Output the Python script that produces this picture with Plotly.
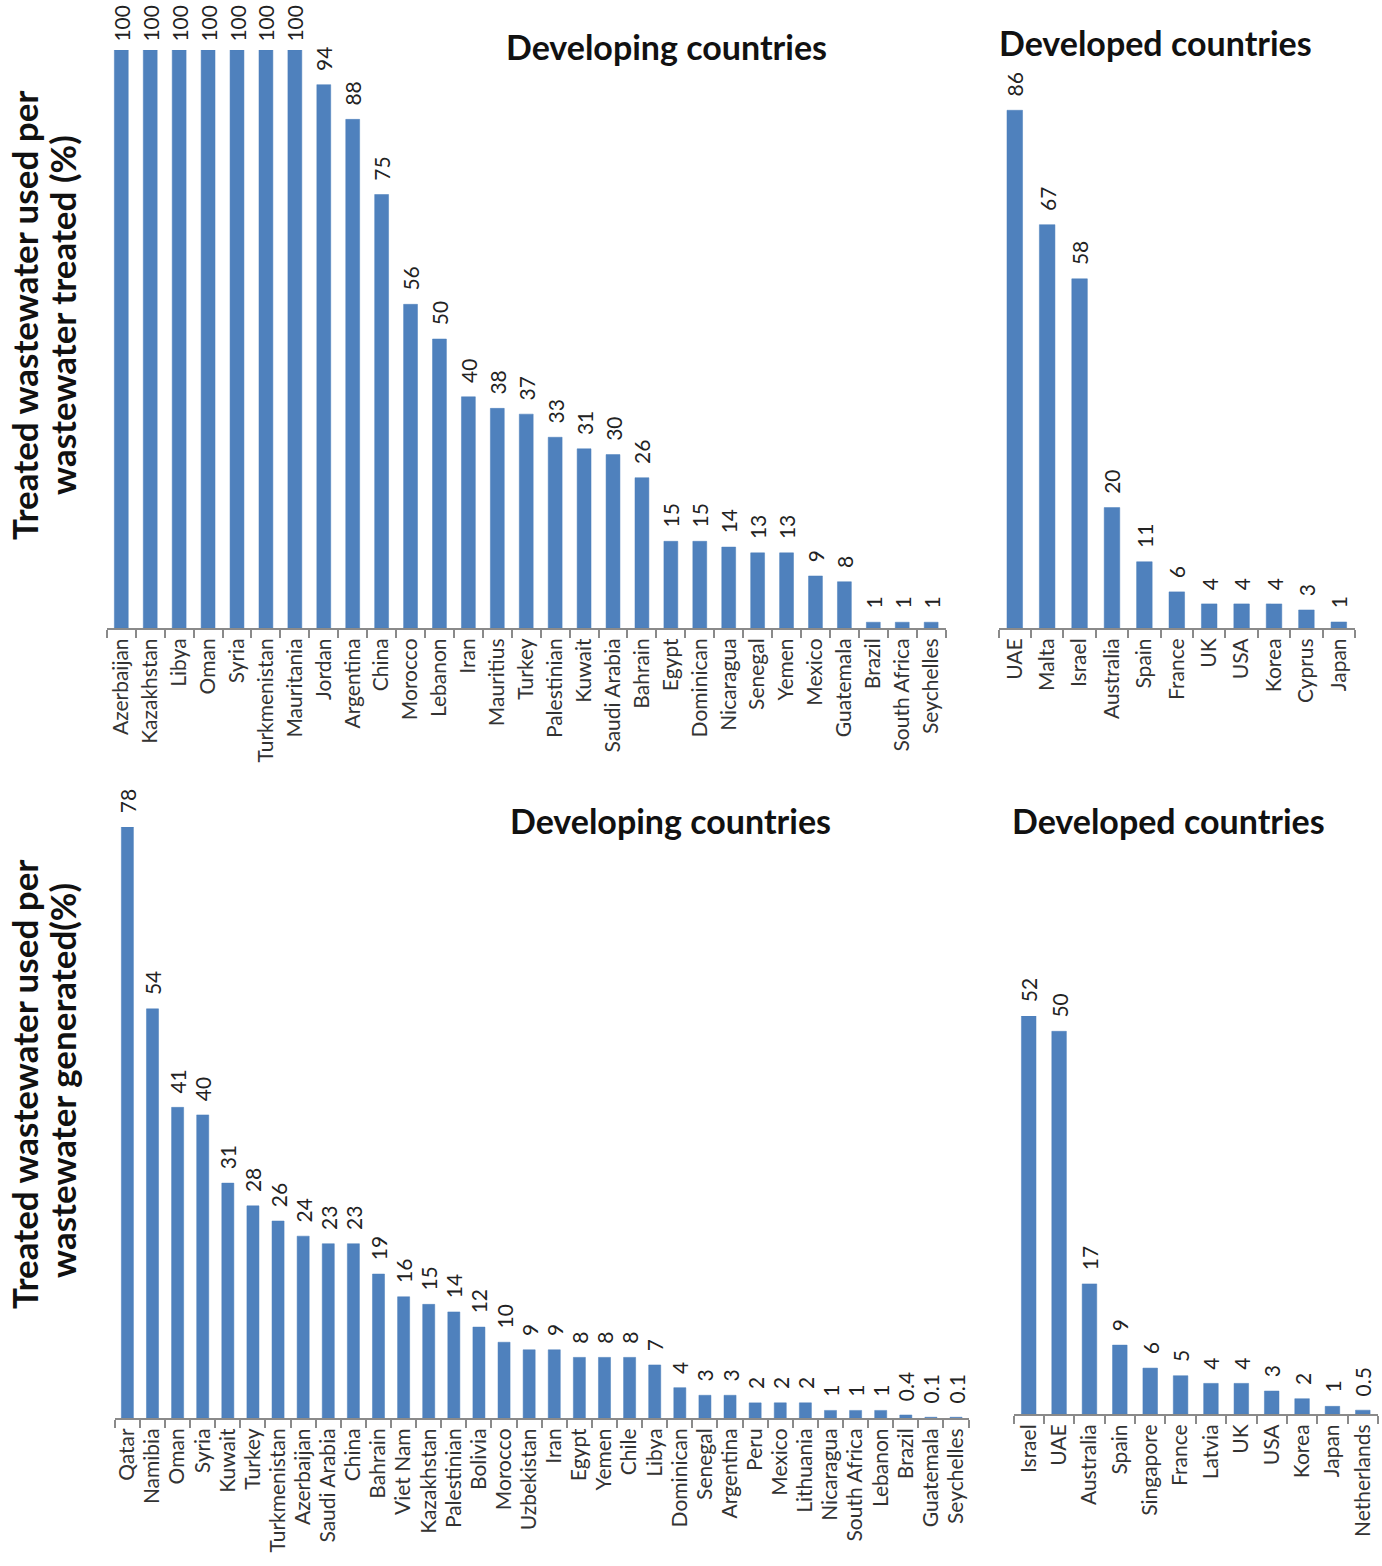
import plotly.graph_objects as go

# top row: treated wastewater used per wastewater treated (%)
dev_treated_countries = ["Azerbaijan", "Kazakhstan", "Libya", "Oman", "Syria", "Turkmenistan",
                         "Mauritania", "Jordan", "Argentina", "China", "Morocco", "Lebanon", "Iran",
                         "Mauritius", "Turkey", "Palestinian", "Kuwait", "Saudi Arabia", "Bahrain",
                         "Egypt", "Dominican", "Nicaragua", "Senegal", "Yemen", "Mexico", "Guatemala",
                         "Brazil", "South Africa", "Seychelles"]
dev_treated_values = [100, 100, 100, 100, 100, 100, 100, 94, 88, 75, 56, 50, 40, 38, 37, 33, 31, 30,
                      26, 15, 15, 14, 13, 13, 9, 8, 1, 1, 1]

ind_treated_countries = ["UAE", "Malta", "Israel", "Australia", "Spain", "France", "UK", "USA",
                         "Korea", "Cyprus", "Japan"]
ind_treated_values = [86, 67, 58, 20, 11, 6, 4, 4, 4, 3, 1]

# bottom row: treated wastewater used per wastewater generated (%)
dev_generated_countries = ["Qatar", "Namibia", "Oman", "Syria", "Kuwait", "Turkey", "Turkmenistan",
                           "Azerbaijan", "Saudi Arabia", "China", "Bahrain", "Viet Nam", "Kazakhstan",
                           "Palestinian", "Bolivia", "Morocco", "Uzbekistan", "Iran", "Egypt", "Yemen",
                           "Chile", "Libya", "Dominican", "Senegal", "Argentina", "Peru", "Mexico",
                           "Lithuania", "Nicaragua", "South Africa", "Lebanon", "Brazil", "Guatemala",
                           "Seychelles"]
dev_generated_values = [78, 54, 41, 40, 31, 28, 26, 24, 23, 23, 19, 16, 15, 14, 12, 10, 9, 9, 8, 8,
                        8, 7, 4, 3, 3, 2, 2, 2, 1, 1, 1, 0.4, 0.1, 0.1]

ind_generated_countries = ["Israel", "UAE", "Australia", "Spain", "Singapore", "France", "Latvia",
                           "UK", "USA", "Korea", "Japan", "Netherlands"]
ind_generated_values = [52, 50, 17, 9, 6, 5, 4, 4, 3, 2, 1, 0.5]

W, H = 1382, 1566
BAR = "#4F81BD"
FONT = "Lato"

def px_x(a, b):
    return [a / W, b / W]

def px_y(top, bottom):
    return [1 - bottom / H, 1 - top / H]

def pt(x, y):
    return x / W, 1 - y / H

def label(v):
    # small gap between bar end and the rotated value
    pad = "\u00a0" if v >= 100 else "\u00a0\u00a0"
    return pad + "%g" % v

panels = [
    (dev_treated_countries, dev_treated_values, px_x(105, 945), px_y(50, 628), 100),
    (ind_treated_countries, ind_treated_values, px_x(998, 1355), px_y(26, 628), 100),
    (dev_generated_countries, dev_generated_values, px_x(113, 968), px_y(827, 1418), 78),
    (ind_generated_countries, ind_generated_values, px_x(1013, 1378), px_y(1016, 1414), 52),
]

fig = go.Figure()
for i, (cats, vals, xd, yd, ymax) in enumerate(panels):
    n = "" if i == 0 else str(i + 1)
    fig.add_trace(go.Bar(
        x=cats, y=vals, xaxis="x" + n, yaxis="y" + n,
        marker=dict(color=BAR, line=dict(color="#4A7EBB", width=0.5)),
        text=[label(v) for v in vals], textposition="outside", textangle=-90,
        constraintext="none", cliponaxis=False,
        textfont=dict(family=FONT, size=21, color="#222222"),
        showlegend=False,
    ))
    fig.update_layout({
        "xaxis" + n: dict(domain=xd, anchor="y" + n, type="category",
                          tickmode="array", tickvals=cats, ticktext=cats,
                          showline=True, linecolor="#8a8a8a", linewidth=2,
                          ticks="outside", tickson="boundaries", ticklen=8,
                          tickcolor="#8a8a8a", tickwidth=1.5, tickangle=-90,
                          tickfont=dict(family=FONT, size=21, color="#333333"),
                          showgrid=False, zeroline=False, fixedrange=True),
        "yaxis" + n: dict(domain=yd, anchor="x" + n, range=[0, ymax], visible=False,
                          showgrid=False, zeroline=False, fixedrange=True),
    })

fig.update_layout(bargap=0.52)

titles = [
    ("Developing countries", 665, 47),
    ("Developed countries", 1155, 42),
    ("Developing countries", 669, 820),
    ("Developed countries", 1168, 820),
]
for t, x, y in titles:
    ax, ay = pt(x, y)
    fig.add_annotation(text="<b>" + t + "</b>", x=ax, y=ay, xref="paper", yref="paper",
                       xanchor="center", yanchor="middle", showarrow=False,
                       font=dict(family=FONT, size=34, color="#111111"))

ytitles = [
    ("Treated wastewater used per", 22, 315),
    ("wastewater treated (%)", 60, 315),
    ("Treated wastewater used per", 22, 1084),
    ("wastewater generated(%)", 60, 1080),
]
for t, x, y in ytitles:
    ax, ay = pt(x, y)
    fig.add_annotation(text="<b>" + t + "</b>", x=ax, y=ay, xref="paper", yref="paper",
                       xanchor="center", yanchor="middle", showarrow=False, textangle=-90,
                       font=dict(family=FONT, size=35, color="#111111"))

fig.update_layout(width=W, height=H, margin=dict(l=0, r=0, t=0, b=0),
                  plot_bgcolor="white", paper_bgcolor="white")

# drop the default page margin so the figure fills the window
fig.write_html("out.html", config={"displayModeBar": False},
               post_script="document.body.style.margin='0';")
